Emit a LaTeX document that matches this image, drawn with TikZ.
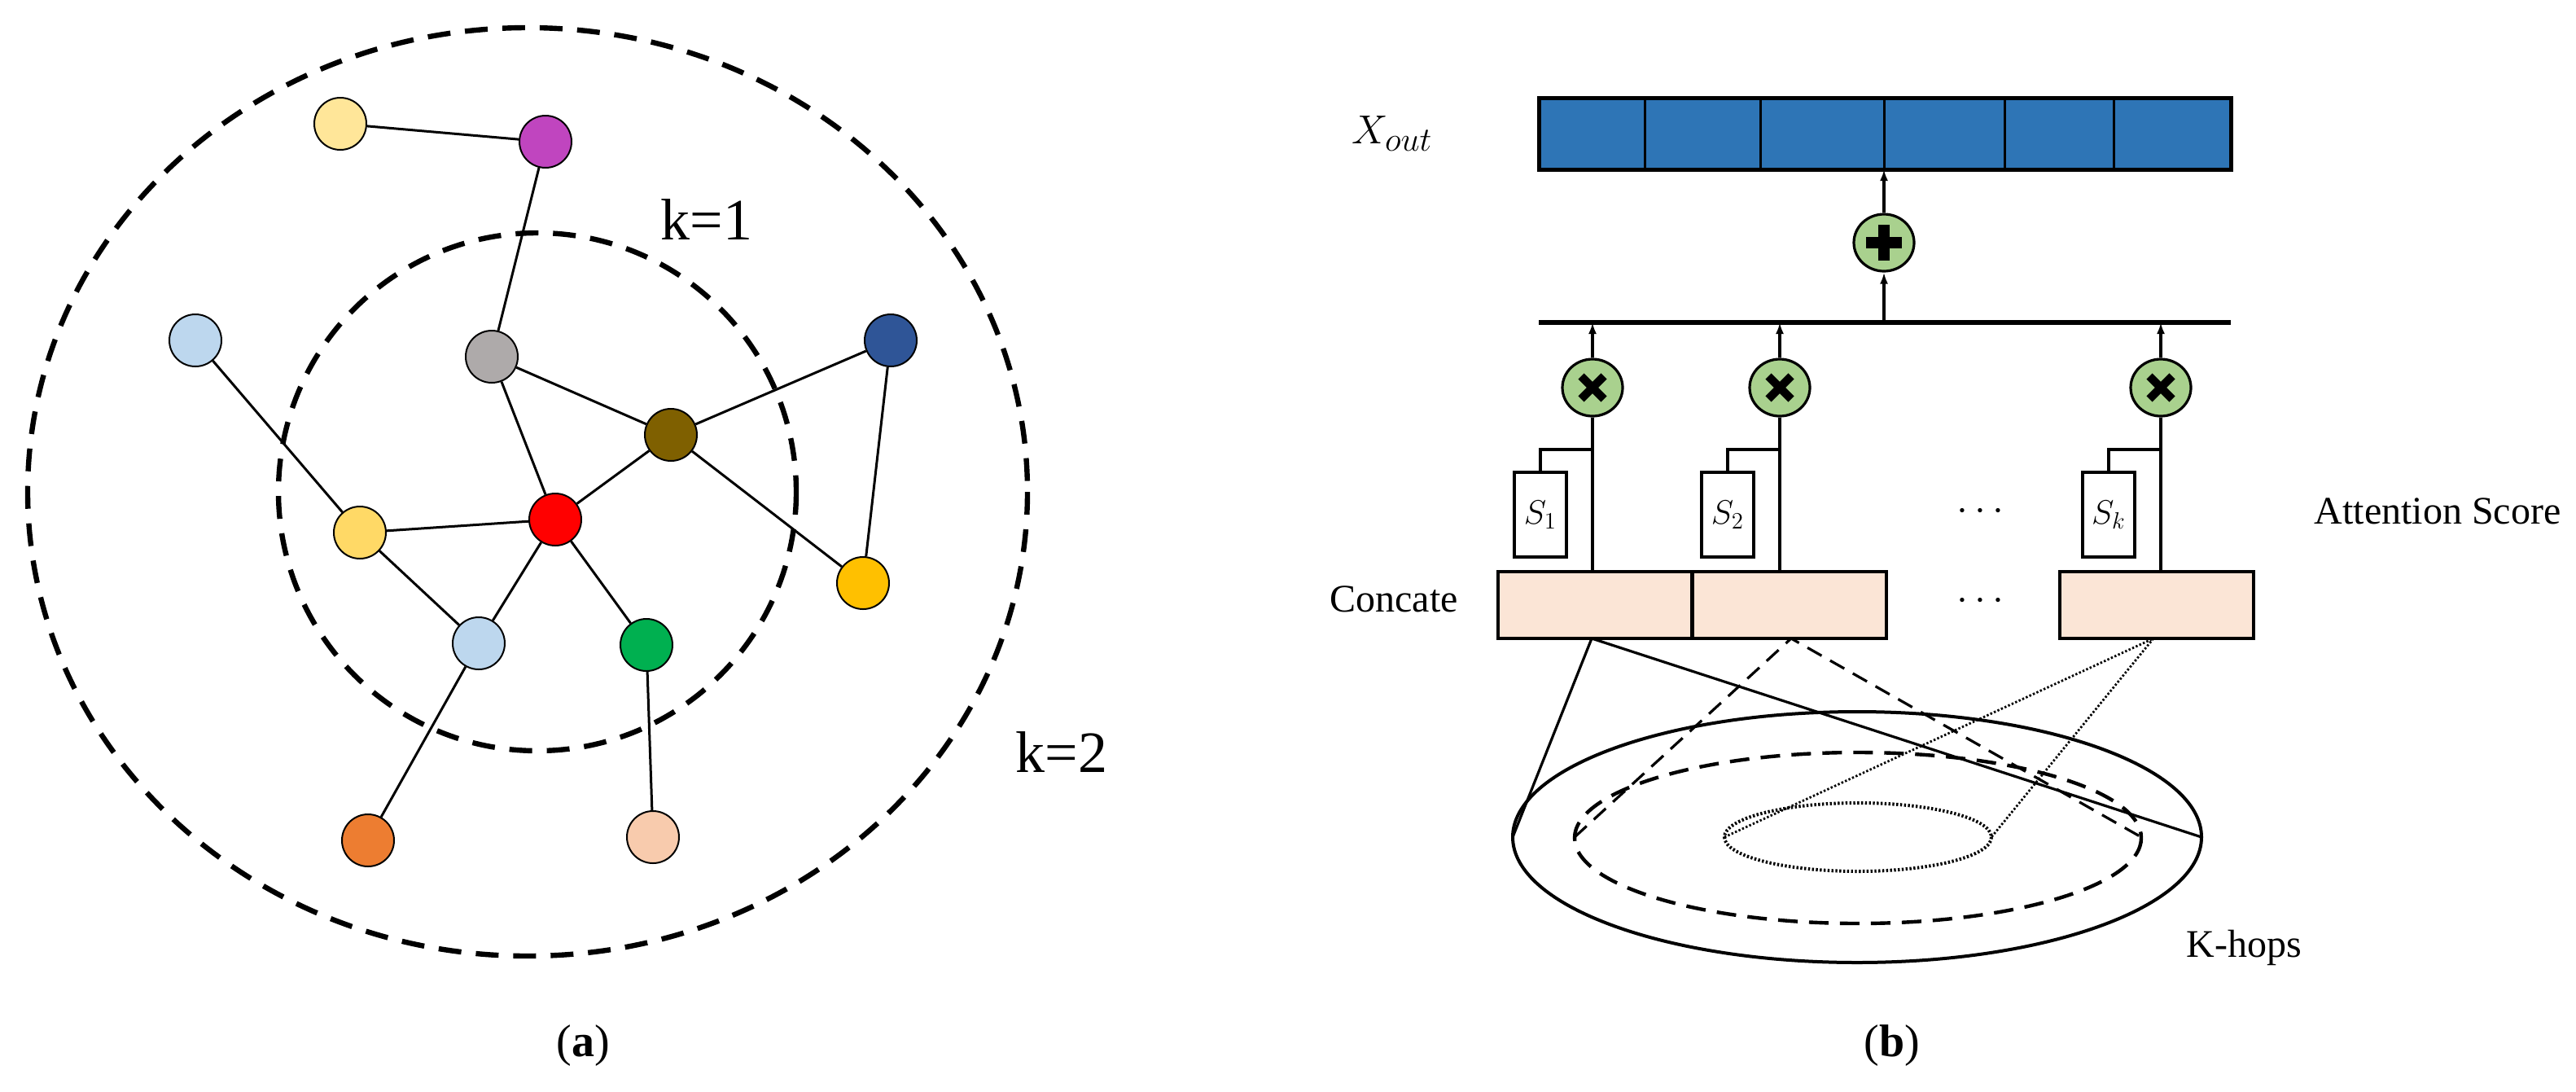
\documentclass[tikz,border=0pt]{standalone}
\usepackage{fontspec}
\setmainfont{Liberation Serif}
\usetikzlibrary{arrows.meta}
\definecolor{cLy}{HTML}{FFE699}
\definecolor{cMg}{HTML}{C045BF}
\definecolor{cGy}{HTML}{AEAAAA}
\definecolor{cLb}{HTML}{BDD7EE}
\definecolor{cDb}{HTML}{2F5597}
\definecolor{cBr}{HTML}{7F6000}
\definecolor{cYl}{HTML}{FFD966}
\definecolor{cOr}{HTML}{FFC000}
\definecolor{cGn}{HTML}{00B050}
\definecolor{cOt}{HTML}{ED7D31}
\definecolor{cPc}{HTML}{F8CBAD}
\definecolor{cBar}{HTML}{2E75B6}
\definecolor{cCat}{HTML}{FBE5D6}
\definecolor{cOp}{HTML}{A9D18E}
\tikzset{
  vtx/.style={circle, draw=black, line width=1pt, minimum size=32pt, inner sep=0pt, fill=#1},
  hop/.style={line width=3.2pt, dash pattern=on 14pt off 9pt},
  op/.style={ellipse, draw=black, line width=1.6pt, fill=cOp, minimum width=37pt, minimum height=35pt, inner sep=0pt},
  score/.style={draw=black, line width=1.6pt, minimum width=32pt, minimum height=52pt, inner sep=0pt, font=\fontsize{22}{24}\selectfont},
  cat/.style={draw=black, line width=2pt, fill=cCat, minimum width=119pt, minimum height=41pt, inner sep=0pt},
  lbl/.style={font=\fontsize{24}{28}\selectfont},
}
\usetikzlibrary{shapes.geometric}
\begin{document}
\begin{tikzpicture}[x=1pt, y=-1pt, >={Latex[length=7pt,width=5pt]}]
    \useasboundingbox (0,0) rectangle (1582,670);
    % ========================= (a)
    \draw[hop] (324,302) ellipse [x radius=307, y radius=285];
    \draw[hop] (330,302) ellipse [x radius=159, y radius=159];
    \node[lbl, font=\fontsize{36}{40}\selectfont] (k1) at (434,135) {k=1};
    \node[lbl, font=\fontsize{36}{40}\selectfont] (k2) at (652,462) {k=2};

    \node[vtx=cLy] (ly) at (209,76) {};
    \node[vtx=cMg] (mg) at (335,87) {};
    \node[vtx=cGy] (gy) at (302,219) {};
    \node[vtx=cLb] (lb) at (120,209) {};
    \node[vtx=cDb] (db) at (547,209) {};
    \node[vtx=cBr] (br) at (412,267) {};
    \node[vtx=red] (rd) at (341,319) {};
    \node[vtx=cYl] (yl) at (221,327) {};
    \node[vtx=cOr] (or) at (530,358) {};
    \node[vtx=cGn] (gn) at (397,396) {};
    \node[vtx=cLb] (lc) at (294,395) {};
    \node[vtx=cOt] (ot) at (226,516) {};
    \node[vtx=cPc] (pc) at (401,514) {};

    \foreach \a/\b in {ly/mg, mg/gy, gy/rd, gy/br, lb/yl, yl/rd, yl/lc, rd/br, rd/gn, rd/lc, lc/ot, gn/pc, br/db, br/or, db/or}
        \draw[line width=1.5pt] (\a) -- (\b);

    \node[lbl, font=\fontsize{28}{32}\selectfont] (capa) at (358,642) {(\textbf{a})};

    % ========================= (b)
    \fill[cBar] (945,60) rectangle (1370,104);
    \foreach \x in {1010,1081,1157,1231,1298}
        \draw[line width=1.5pt] (\x,60) -- (\x,104);
    \draw[line width=2.5pt] (945,60) rectangle (1370,104);
    \coordinate (bar) at (1157,104);
    \node[font=\fontsize{30}{34}\selectfont] (xout) at (855,82) {$X_{out}$};

    \node[op] (plus) at (1157,149) {};
    \fill (plus.center) ++(-3.5,-11) rectangle ++(7,22);
    \fill (plus.center) ++(-11,-3.5) rectangle ++(22,7);
    \draw[line width=3pt] (945,198) -- (1370,198);
    \coordinate (bus) at (1157,198);
    \draw[->, line width=1.6pt] (plus) -- (bar);
    \draw[->, line width=1.6pt] (bus) -- (plus);

    \node[cat] (c1) at (979.5,371.5) {};
    \node[cat] (c2) at (1099,371.5) {};
    \node[cat] (c3) at (1324.5,371.5) {};

    \foreach \x/\s/\t/\c in {978/946/1/c1, 1093/1061/2/c2, 1327/1295/k/c3} {
        \node[op] (m\t) at (\x,238) {};
        \draw[line width=5pt] (m\t.center) ++(-7,-7) -- ++(14,14);
        \draw[line width=5pt] (m\t.center) ++(-7,7) -- ++(14,-14);
        \coordinate (t\t) at (\x,198);
        \coordinate (b\t) at (\x,351);
        \draw[->, line width=1.6pt] (m\t) -- (t\t);
        \draw[line width=1.6pt] (b\t) -- (m\t);
        \node[score] (s\t) at (\s,316) {$S_{\t}$};
        \draw[line width=1.6pt] (s\t.north) |- (\x,276);
    }
    \node[lbl] (dt1) at (1216,314) {$\cdots$};
    \node[lbl] (dt2) at (1216,369) {$\cdots$};
    \node[lbl] (att) at (1497,314) {Attention Score};
    \node[lbl] (con) at (856,368) {Concate};

    % rings of hops
    \draw[line width=2pt] (1140.5,514) ellipse [x radius=211.5, y radius=77];
    \draw[line width=2.2pt, dash pattern=on 12pt off 7pt] (1141,514.5) ellipse [x radius=174, y radius=52.5];
    \draw[line width=2pt, dash pattern=on 1.2pt off 1.2pt] (1141,514) ellipse [x radius=82, y radius=21];
    \coordinate (a1) at (977.5,392);
    \coordinate (a2) at (1100,392);
    \coordinate (a3) at (1322.5,392);
    \draw[line width=1.6pt] (929,514) -- (a1) -- (1352,514);
    \draw[line width=1.6pt, dash pattern=on 10pt off 6pt] (967,514) -- (a2) -- (1315,514);
    \draw[line width=1.4pt, dash pattern=on 1.2pt off 1.2pt] (1059,514) -- (a3) -- (1223,514);
    \node[lbl] (khop) at (1378,582) {K-hops};
    \node[lbl, font=\fontsize{28}{32}\selectfont] (capb) at (1162,642) {(\textbf{b})};
\end{tikzpicture}
\end{document}
